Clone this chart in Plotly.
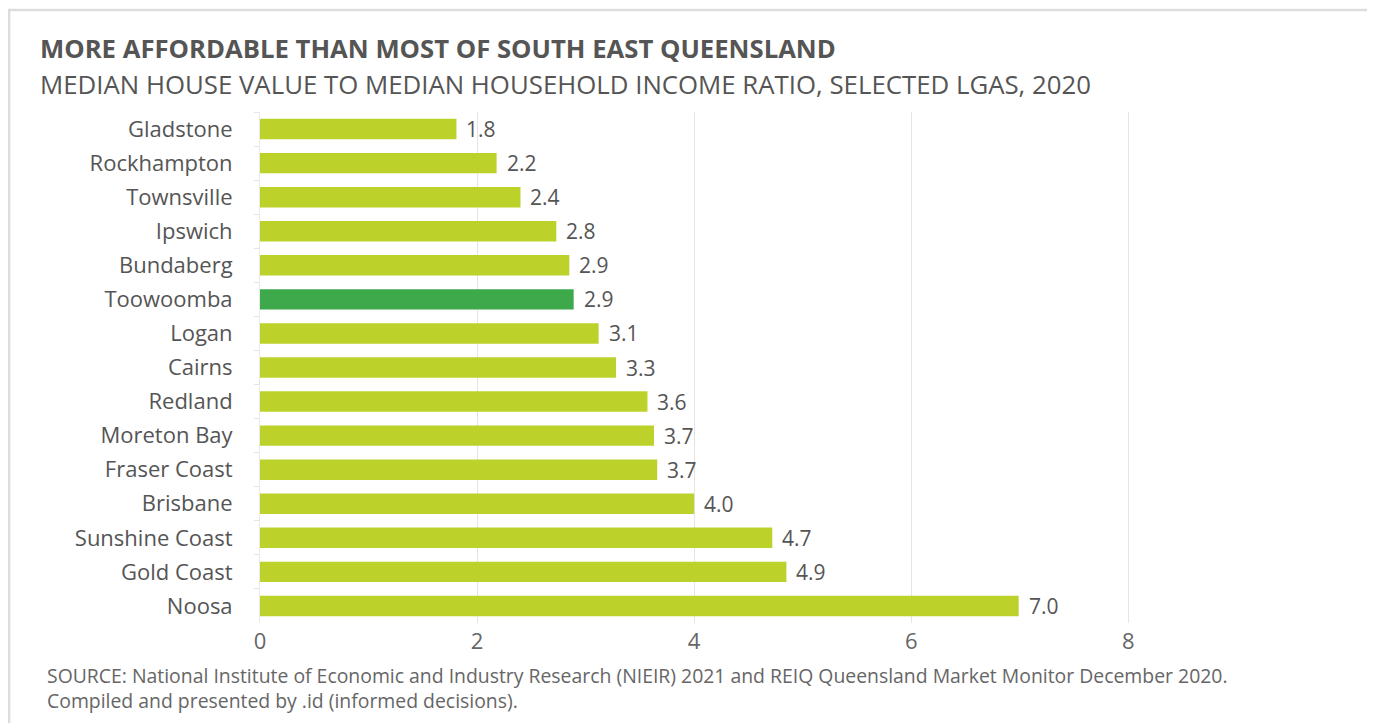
import plotly.graph_objects as go

categories = ["Gladstone", "Rockhampton", "Townsville", "Ipswich", "Bundaberg", "Toowoomba",
              "Logan", "Cairns", "Redland", "Moreton Bay", "Fraser Coast", "Brisbane",
              "Sunshine Coast", "Gold Coast", "Noosa"]
values = [1.81, 2.18, 2.40, 2.73, 2.85, 2.89, 3.12, 3.28, 3.57, 3.63, 3.66, 4.00, 4.72, 4.85, 6.99]
value_labels = ["1.8", "2.2", "2.4", "2.8", "2.9", "2.9", "3.1", "3.3", "3.6", "3.7", "3.7",
                "4.0", "4.7", "4.9", "7.0"]
highlight = "Toowoomba"
x_ticks = [0, 2, 4, 6, 8]

# page is offset by the default 8px body margin
OFF = 8
W, H = 1375 - OFF, 723 - OFF
L, R = 260 - OFF, 1150.5 - OFF
T, B = 112 - OFF, 623 - OFF
PW, PH = R - L, B - T

def px(x):
    return (x - OFF - L) / PW

def py(y):
    return (B - (y - OFF)) / PH

FONT = "Open Sans"
GREY = "#555555"
LIME = "#BCD22B"
GREEN = "#3DA94B"

colors = [GREEN if c == highlight else LIME for c in categories]

fig = go.Figure()
fig.add_trace(go.Bar(
    x=values, y=categories, orientation="h",
    marker=dict(color=colors, line=dict(width=0)),
    width=0.6, hoverinfo="skip",
))

for c, v, lab in zip(categories, values, value_labels):
    fig.add_annotation(x=v, y=c, text=lab, showarrow=False, xanchor="left",
                       xshift=8, font=dict(family=FONT, size=21, color=GREY))

# Titles and source
fig.add_annotation(xref="paper", yref="paper", x=px(38), y=py(49), xanchor="left", yanchor="middle",
                   text="<b>MORE AFFORDABLE THAN MOST OF SOUTH EAST QUEENSLAND</b>", showarrow=False,
                   font=dict(family=FONT, size=25.7, color=GREY))
fig.add_annotation(xref="paper", yref="paper", x=px(38), y=py(84), xanchor="left", yanchor="middle",
                   text="MEDIAN HOUSE VALUE TO MEDIAN HOUSEHOLD INCOME RATIO, SELECTED LGAS, 2020",
                   showarrow=False, font=dict(family=FONT, size=25.8, color=GREY))
fig.add_annotation(xref="paper", yref="paper", x=px(45), y=py(675), xanchor="left", yanchor="middle",
                   text="SOURCE: National Institute of Economic and Industry Research (NIEIR) 2021 and REIQ Queensland Market Monitor December 2020.",
                   showarrow=False, font=dict(family=FONT, size=19.4, color="#666666"))
fig.add_annotation(xref="paper", yref="paper", x=px(45), y=py(700), xanchor="left", yanchor="middle",
                   text="Compiled and presented by .id (informed decisions).",
                   showarrow=False, font=dict(family=FONT, size=19.4, color="#666666"))

# Outer border
fig.add_shape(type="rect", xref="paper", yref="paper",
              x0=px(9), x1=px(1369), y0=py(740), y1=py(10),
              line=dict(color="#DDDDDD", width=2.5), layer="below")

fig.update_layout(
    width=W, height=H,
    margin=dict(l=L, r=W - R, t=T, b=H - B),
    paper_bgcolor="white", plot_bgcolor="white",
    showlegend=False,
    xaxis=dict(range=[0, 8.2], tickvals=x_ticks, ticktext=[str(t) for t in x_ticks],
               showgrid=True, gridcolor="#E4E4E4", gridwidth=1,
               zeroline=False, showline=False, ticks="",
               tickfont=dict(family=FONT, size=22, color="#666666"), ticklabelstandoff=3,
               fixedrange=True),
    yaxis=dict(autorange="reversed", showgrid=False, zeroline=False,
               showline=True, linecolor="#EAEAEA", linewidth=1,
               ticks="outside", tickson="boundaries", ticklen=5, tickcolor="#E4E4E4",
               tickfont=dict(family=FONT, size=22, color=GREY), ticklabelstandoff=22,
               fixedrange=True),
)

fig.write_html("out.html")
